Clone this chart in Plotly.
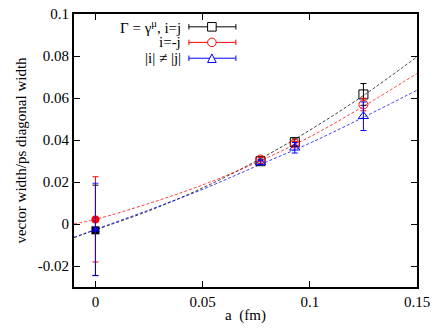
import plotly.graph_objects as go

# data points (lattice spacing a in fm) and extrapolated values at a=0
a_pts = [0.0, 0.077, 0.093, 0.125]
black_y = [-0.0030, 0.0299, 0.0390, 0.0617]
black_err = [0.0215, 0.0010, 0.0015, 0.0052]
red_y = [0.0022, 0.0307, 0.0383, 0.0569]
red_err = [0.0203, 0.0010, 0.0010, 0.0030]
blue_y = [-0.0026, 0.0293, 0.0363, 0.0513]
blue_err = [0.0220, 0.0010, 0.0025, 0.0068]

# fit curves
fit_x = [-0.01, 0.0, 0.025, 0.05, 0.075, 0.1, 0.125, 0.15]
fit_black = [-0.0065, -0.0028, 0.0063, 0.0172, 0.0300, 0.0447, 0.0612, 0.0796]
fit_red = [0.0001, 0.0022, 0.0098, 0.0186, 0.0292, 0.0415, 0.0560, 0.0717]
fit_blue = [-0.0063, -0.0026, 0.0067, 0.0165, 0.0275, 0.0385, 0.0508, 0.0637]

labels = ["Γ = γ<sup>μ</sup>, i=j", "i=-j", "|i| ≠ |j|"]
colors = ["#000000", "#ff0000", "#0000ff"]
open_sym = ["square-open", "circle-open", "triangle-up-open"]
fill_sym = ["square", "circle", "triangle-up"]

FONT = "Liberation Serif"
FS = 15
fig = go.Figure()

series = [(black_y, black_err, fit_black), (red_y, red_err, fit_red), (blue_y, blue_err, fit_blue)]
for i, (ys, es, fy) in enumerate(series):
    c = colors[i]
    fig.add_trace(go.Scatter(x=fit_x, y=fy, mode="lines", line=dict(color=c, width=1, dash="3px,2px", shape="spline"),
                             opacity=0.75, showlegend=False, hoverinfo="skip"))
for i, (ys, es, fy) in enumerate(series):
    c = colors[i]
    fig.add_trace(go.Scatter(x=a_pts[1:], y=ys[1:], mode="markers",
                             marker=dict(symbol=open_sym[i], size=9, color=c, line=dict(width=1, color=c)),
                             error_y=dict(type="data", array=es[1:], visible=True, color=c, thickness=1, width=3),
                             showlegend=False))
for i, (ys, es, fy) in enumerate(series):
    c = colors[i]
    fig.add_trace(go.Scatter(x=a_pts[:1], y=ys[:1], mode="markers",
                             marker=dict(symbol=fill_sym[i], size=8, color=c),
                             error_y=dict(type="data", array=es[:1], visible=True, color=c, thickness=1, width=3),
                             opacity=0.85 if i == 2 else 1.0,
                             showlegend=False))

shapes = []
annotations = []
leg_y = [0.953, 0.896, 0.838]
x_text = 0.314
x0, x1, xm = 0.335, 0.472, 0.402
for i in range(3):
    c = colors[i]
    y = leg_y[i]
    annotations.append(dict(x=x_text, y=y, xref="paper", yref="paper", text=labels[i], showarrow=False,
                            xanchor="right", yanchor="middle", borderpad=0,
                            font=dict(family=FONT, size=FS, color="black")))
    shapes.append(dict(type="line", xref="paper", yref="paper", x0=x0, x1=x1, y0=y, y1=y, line=dict(color=c, width=1)))
    for xx in (x0, x1):
        shapes.append(dict(type="line", xref="paper", yref="paper", x0=xx, x1=xx, y0=y - 0.01, y1=y + 0.01,
                           line=dict(color=c, width=1)))
    dx, dy = 0.0125, 0.0157
    if i == 0:
        shapes.append(dict(type="rect", xref="paper", yref="paper", x0=xm - dx, x1=xm + dx, y0=y - dy, y1=y + dy,
                           line=dict(color=c, width=1), fillcolor="white"))
    elif i == 1:
        shapes.append(dict(type="circle", xref="paper", yref="paper", x0=xm - dx, x1=xm + dx, y0=y - dy, y1=y + dy,
                           line=dict(color=c, width=1), fillcolor="white"))
    else:
        shapes.append(dict(type="path", xref="paper", yref="paper",
                           path=f"M {xm - dx} {y - dy} L {xm + dx} {y - dy} L {xm} {y + dy} Z",
                           line=dict(color=c, width=1), fillcolor="white"))

axis_common = dict(showgrid=False, zeroline=False, showline=True, linecolor="black", linewidth=2,
                   mirror="ticks", ticks="inside", ticklen=6, tickcolor="black", tickwidth=1, automargin=False,
                   ticklabeloverflow="allow", tickfont=dict(family=FONT, size=FS, color="black"))
fig.update_xaxes(range=[-0.01, 0.15], tickvals=[0, 0.05, 0.1, 0.15], ticktext=["0", "0.05", "0.1", "0.15"],
                 title=dict(text="a  (fm)", font=dict(family=FONT, size=FS, color="black"), standoff=0),
                 **axis_common)
fig.update_yaxes(range=[-0.03, 0.1], tickvals=[-0.02, 0, 0.02, 0.04, 0.06, 0.08, 0.1],
                 ticktext=["-0.02", "0", "0.02", "0.04", "0.06", "0.08", "0.1"],
                 title=dict(text="vector width/ps diagonal width", font=dict(family=FONT, size=FS, color="black"),
                            standoff=8),
                 **axis_common)
fig.update_layout(width=436, height=335, margin=dict(l=74, r=19, t=14, b=48, autoexpand=False),
                  plot_bgcolor="white", paper_bgcolor="white", shapes=shapes, annotations=annotations,
                  font=dict(family=FONT, size=FS, color="black"))
fig.write_html("out.html", config={"displayModeBar": False},
               post_script="document.body.style.margin='0px';document.body.style.overflow='hidden';")
